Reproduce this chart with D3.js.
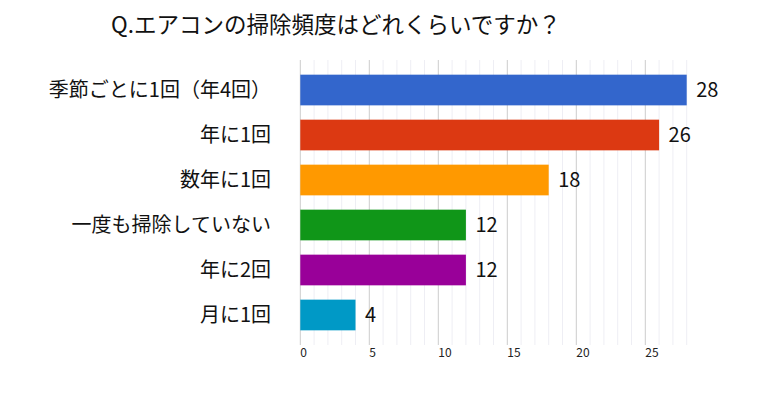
<!DOCTYPE html>
<html><head><meta charset="utf-8">
<script src="https://cdn.jsdelivr.net/npm/d3@7"></script>
<style>body{margin:0;background:#fff}svg{display:block}text{font-family:"Noto Sans CJK JP","Noto Sans",sans-serif}</style>
</head><body>
<script>
const title = "Q.エアコンの掃除頻度はどれくらいですか？";
const categories = ["季節ごとに1回（年4回）","年に1回","数年に1回","一度も掃除していない","年に2回","月に1回"];
const values = [28, 26, 18, 12, 12, 4];
const colors = ["#3366CC","#DC3912","#FF9900","#109618","#990099","#0099C6"];
const tickValues = [0,5,10,15,20,25];

const W = 772, H = 405;
const svg = d3.select("body").append("svg").attr("width", W).attr("height", H);

const x = d3.scaleLinear().domain([0, 28]).range([300.3, 686.7]);
const y = d3.scaleBand().domain(categories).range([60, 345]).paddingInner(0.318).paddingOuter(0.326);

// minor gridlines
svg.append("g").selectAll("line").data(d3.range(1, 29).filter(v => v % 5 !== 0))
  .join("line").attr("x1", d => x(d)).attr("x2", d => x(d)).attr("y1", 60).attr("y2", 345)
  .attr("stroke", "#eeeef4").attr("stroke-width", 1);
// major gridlines
svg.append("g").selectAll("line").data(tickValues)
  .join("line").attr("x1", d => x(d)).attr("x2", d => x(d)).attr("y1", 60).attr("y2", 345)
  .attr("stroke", "#cccccc").attr("stroke-width", 1);

// tick labels
svg.append("g").selectAll("text").data(tickValues)
  .join("text").attr("x", d => x(d)).attr("y", 356.5).attr("text-anchor", "start")
  .attr("font-size", 12).attr("fill", "#222").text(d => d);

// bars
svg.append("g").selectAll("rect").data(values)
  .join("rect").attr("x", x(0)).attr("y", (d, i) => y(categories[i]))
  .attr("width", d => x(d) - x(0)).attr("height", y.bandwidth())
  .attr("fill", (d, i) => colors[i]);

// value labels
svg.append("g").selectAll("text").data(values)
  .join("text").attr("x", d => x(d) + 9.5).attr("y", (d, i) => y(categories[i]) + y.bandwidth() / 2)
  .attr("dy", "0.36em").attr("font-size", 20).attr("fill", "#111").text(d => d);

// category labels
svg.append("g").selectAll("text").data(categories)
  .join("text").attr("x", 271).attr("y", d => y(d) + y.bandwidth() / 2)
  .attr("dy", "0.36em").attr("text-anchor", "end").attr("font-size", 20).attr("fill", "#111").text(d => d);

// title
svg.append("text").attr("x", 111).attr("y", 33).attr("font-size", 22.5).attr("fill", "#111").text(title);
</script>
</body></html>
